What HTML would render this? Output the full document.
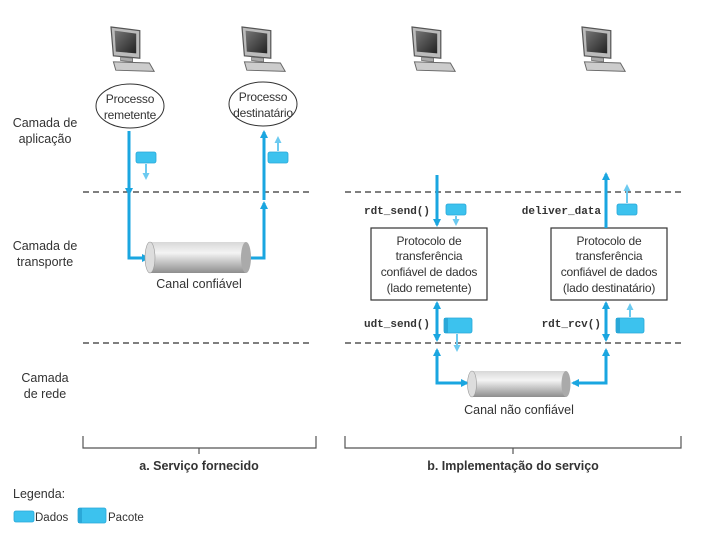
<!DOCTYPE html>
<html><head><meta charset="utf-8"><style>
html,body{margin:0;padding:0;background:#fff;}
svg{display:block;font-family:"Liberation Sans",sans-serif;}
.m{font-family:"Liberation Mono",monospace;font-size:11px;font-weight:bold;fill:#333;}
.t{font-size:12.5px;fill:#333;}
.s{font-size:12px;fill:#333;letter-spacing:-0.2px;}
</style></head><body>
<svg width="707" height="537" viewBox="0 0 707 537" xmlns="http://www.w3.org/2000/svg">
<defs>
<linearGradient id="cyl" x1="0" y1="0" x2="0" y2="1">
<stop offset="0" stop-color="#d8d8d8"/><stop offset="0.35" stop-color="#f4f4f4"/><stop offset="1" stop-color="#8e8e8e"/>
</linearGradient>
<linearGradient id="scr" x1="0" y1="0" x2="1" y2="1">
<stop offset="0" stop-color="#777"/><stop offset="1" stop-color="#222"/>
</linearGradient>
<g id="pc" transform="scale(1.2)">
<path d="M0,0 L24,3 L24,26 L2,24 Z" fill="#bbb" stroke="#555" stroke-width="1"/>
<path d="M3,3 L21,5.5 L21,22 L4,20.5 Z" fill="url(#scr)"/>
<path d="M8,25 L18,26 L18,29 L8,28 Z" fill="#aaa" stroke="#666" stroke-width="0.6"/>
<path d="M2,29 L32,30 L36,37 L4,36 Z" fill="#ccc" stroke="#666" stroke-width="0.8"/>
</g>
<g id="dat"><rect x="0" y="0" width="20" height="11" rx="2" fill="#3cc2ee" stroke="#2aa8d8" stroke-width="0.8"/></g>
<g id="pkt"><rect x="0" y="0" width="28" height="15" rx="2" fill="#3cc2ee" stroke="#2aa8d8" stroke-width="0.8"/><rect x="0" y="0" width="4" height="15" fill="#2aa8d8"/></g>
<marker id="ah" markerWidth="8" markerHeight="8" refX="6" refY="4" orient="auto" markerUnits="userSpaceOnUse"><path d="M0,0 L8,4 L0,8 Z" fill="#1aa6e0"/></marker>
<marker id="as" markerWidth="7" markerHeight="7" refX="5" refY="3.5" orient="auto" markerUnits="userSpaceOnUse"><path d="M0,0 L7,3.5 L0,7 Z" fill="#6ccaf0"/></marker>
</defs>

<use href="#pc" x="111" y="27"/><use href="#pc" x="242" y="27"/>
<use href="#pc" x="412" y="27"/><use href="#pc" x="582" y="27"/>

<text class="t" text-anchor="middle" x="45" y="127">Camada de</text>
<text class="t" text-anchor="middle" x="45" y="143">aplicação</text>
<text class="t" text-anchor="middle" x="45" y="250">Camada de</text>
<text class="t" text-anchor="middle" x="45" y="266">transporte</text>
<text class="t" text-anchor="middle" x="45" y="382">Camada</text>
<text class="t" text-anchor="middle" x="45" y="398">de rede</text>

<g stroke="#333" stroke-width="1.2" stroke-dasharray="6,4">
<line x1="83" y1="192" x2="313" y2="192"/><line x1="345" y1="192" x2="681" y2="192"/>
<line x1="83" y1="343" x2="313" y2="343"/><line x1="345" y1="343" x2="681" y2="343"/>
</g>

<ellipse cx="130" cy="106" rx="34" ry="22" fill="#fff" stroke="#333" stroke-width="1"/>
<text class="s" text-anchor="middle" x="130" y="103">Processo</text>
<text class="s" text-anchor="middle" x="130" y="119">remetente</text>
<ellipse cx="263" cy="104" rx="34" ry="22" fill="#fff" stroke="#333" stroke-width="1"/>
<text class="s" text-anchor="middle" x="263" y="101">Processo</text>
<text class="s" text-anchor="middle" x="263" y="117" font-size="11.5">destinatário</text>

<g stroke="#1aa6e0" stroke-width="3" fill="none">
<line x1="129" y1="131" x2="129" y2="194" marker-end="url(#ah)"/>
<polyline points="129,192 129,258 148,258" marker-end="url(#ah)"/>
<polyline points="245,258 264,258 264,203" marker-end="url(#ah)"/>
<line x1="264" y1="200" x2="264" y2="132" marker-end="url(#ah)"/>
</g>
<rect x="150" y="242" width="96" height="31" fill="url(#cyl)"/>
<ellipse cx="246" cy="257.5" rx="5" ry="15.5" fill="#aaa"/>
<ellipse cx="150" cy="257.5" rx="5" ry="15.5" fill="#ddd" stroke="#999" stroke-width="0.6"/>
<text class="t" text-anchor="middle" x="199" y="288">Canal confiável</text>

<use href="#dat" x="136" y="152"/>
<line x1="146" y1="164" x2="146" y2="178" stroke="#6ccaf0" stroke-width="2" marker-end="url(#as)"/>
<use href="#dat" x="268" y="152"/>
<line x1="278" y1="151" x2="278" y2="138" stroke="#6ccaf0" stroke-width="2" marker-end="url(#as)"/>

<rect x="371" y="228" width="116" height="72" fill="#fff" stroke="#333" stroke-width="1.2"/>
<text class="s" text-anchor="middle" x="429" y="245">Protocolo de</text>
<text class="s" text-anchor="middle" x="429" y="260">transferência</text>
<text class="s" text-anchor="middle" x="429" y="276">confiável de dados</text>
<text class="s" text-anchor="middle" x="429" y="292">(lado remetente)</text>
<rect x="551" y="228" width="116" height="72" fill="#fff" stroke="#333" stroke-width="1.2"/>
<text class="s" text-anchor="middle" x="609" y="245">Protocolo de</text>
<text class="s" text-anchor="middle" x="609" y="260">transferência</text>
<text class="s" text-anchor="middle" x="609" y="276">confiável de dados</text>
<text class="s" text-anchor="middle" x="609" y="292">(lado destinatário)</text>

<text class="m" text-anchor="end" x="430" y="214">rdt_send()</text>
<text class="m" text-anchor="end" x="601" y="214">deliver_data</text>
<text class="m" text-anchor="end" x="430" y="327">udt_send()</text>
<text class="m" text-anchor="end" x="601" y="327">rdt_rcv()</text>

<g stroke="#1aa6e0" stroke-width="3" fill="none">
<line x1="437" y1="175" x2="437" y2="225" marker-end="url(#ah)"/>
<line x1="606" y1="228" x2="606" y2="174" marker-end="url(#ah)"/>
<line x1="437" y1="315" x2="437" y2="303" marker-end="url(#ah)"/>
<line x1="437" y1="315" x2="437" y2="340" marker-end="url(#ah)"/>
<line x1="606" y1="315" x2="606" y2="303" marker-end="url(#ah)"/>
<line x1="606" y1="315" x2="606" y2="340" marker-end="url(#ah)"/>
<line x1="437" y1="370" x2="437" y2="350" marker-end="url(#ah)"/>
<polyline points="437,368 437,383 467,383" marker-end="url(#ah)"/>
<line x1="606" y1="370" x2="606" y2="350" marker-end="url(#ah)"/>
<polyline points="606,368 606,383 573,383" marker-end="url(#ah)"/>
</g>
<rect x="472" y="371" width="94" height="26" fill="url(#cyl)"/>
<ellipse cx="566" cy="384" rx="4.5" ry="13" fill="#aaa"/>
<ellipse cx="472" cy="384" rx="4.5" ry="13" fill="#ddd" stroke="#999" stroke-width="0.6"/>
<text class="t" text-anchor="middle" x="519" y="414">Canal não confiável</text>

<use href="#dat" x="446" y="204"/>
<line x1="456" y1="216" x2="456" y2="224" stroke="#6ccaf0" stroke-width="2" marker-end="url(#as)"/>
<use href="#dat" x="617" y="204"/>
<line x1="627" y1="203" x2="627" y2="186" stroke="#6ccaf0" stroke-width="2" marker-end="url(#as)"/>
<use href="#pkt" x="444" y="318"/>
<line x1="457" y1="334" x2="457" y2="350" stroke="#6ccaf0" stroke-width="2" marker-end="url(#as)"/>
<use href="#pkt" x="616" y="318"/>
<line x1="630" y1="317" x2="630" y2="305" stroke="#6ccaf0" stroke-width="2" marker-end="url(#as)"/>

<g stroke="#555" stroke-width="1.2" fill="none">
<polyline points="83,436 83,448 316,448 316,436"/><line x1="199" y1="448" x2="199" y2="454"/>
<polyline points="345,436 345,448 681,448 681,436"/><line x1="513" y1="448" x2="513" y2="454"/>
</g>
<text x="199" y="470" text-anchor="middle" font-size="12.5" font-weight="bold" fill="#333">a. Serviço fornecido</text>
<text x="513" y="470" text-anchor="middle" font-size="12.5" font-weight="bold" fill="#333">b. Implementação do serviço</text>

<text class="t" x="13" y="498">Legenda:</text>
<use href="#dat" x="14" y="511"/>
<text x="35" y="521" font-size="11.5" fill="#333">Dados</text>
<use href="#pkt" x="78" y="508"/>
<text x="108" y="521" font-size="11.5" fill="#333">Pacote</text>
</svg>
</body></html>
